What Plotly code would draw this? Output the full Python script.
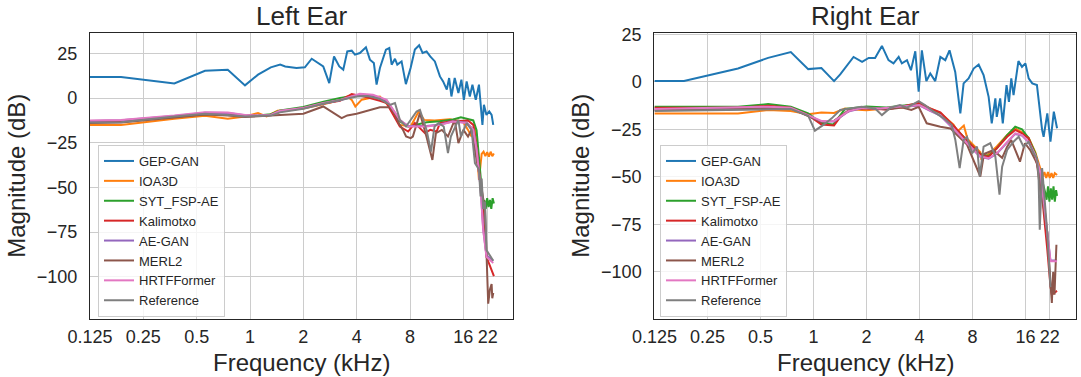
import plotly.graph_objects as go

names = ["GEP-GAN", "IOA3D", "SYT_FSP-AE", "Kalimotxo", "AE-GAN", "MERL2", "HRTFFormer", "Reference"]
colors = ["#1f77b4", "#ff7f0e", "#2ca02c", "#d62728", "#9467bd", "#8c564b", "#e377c2", "#7f7f7f"]
tick_vals = [0.125, 0.25, 0.5, 1, 2, 4, 8, 16, 22]
tick_text = ["0.125", "0.25", "0.5", "1", "2", "4", "8", "16", "22"]
y_ticks = [-100, -75, -50, -25, 0, 25]

# ---------------- Left ear ----------------
L_GEP_f = [0.125, 0.187, 0.374, 0.557, 0.749, 0.937, 1.11, 1.31, 1.48, 1.58, 1.83, 2.04, 2.23, 2.59, 2.80, 2.98, 3.19, 3.36, 3.54, 3.75, 3.91, 4.17, 4.51, 4.75, 5.0, 5.18, 5.41, 5.85, 6.11, 6.30, 6.58, 6.78, 7.17, 7.58, 8.06, 8.52, 9.01, 9.42, 9.92, 10.4, 11.05, 11.8, 12.3, 12.9, 13.3, 13.7, 14.3, 15.0, 15.6, 16.1, 16.7, 17.4, 18.0, 18.8, 19.6, 20.5, 20.9, 21.6, 22.4, 23.1, 23.6]
L_GEP_db = [11.8, 11.8, 8.2, 15.3, 15.9, 7.1, 13.1, 17.2, 18.7, 17.7, 16.8, 17.2, 22.0, 17.7, 8.4, 23.3, 17.7, 15.9, 26.1, 26.5, 24.3, 25.2, 28.4, 21.5, 19.6, 7.5, 16.8, 27.1, 28.0, 18.7, 22.0, 18.7, 20.5, 7.8, 16.8, 27.1, 29.5, 25.2, 26.1, 23.3, 20.5, 12.1, 9.3, 4.7, 11.2, 0.9, 11.2, 2.8, 10.3, -1.0, 9.3, 0.9, 7.5, -1.0, 7.5, -15.0, -3.8, -9.4, -7.5, -9.4, -15.0]

L_IOA_f = [0.125, 0.187, 0.374, 0.557, 0.749, 0.937, 1.11, 1.24, 1.43, 2.0, 2.59, 3.0, 3.54, 3.75, 3.93, 4.27, 4.75, 5.41, 6.11, 7.01, 8.06, 8.96, 9.6, 11.0, 13.4, 15.9, 17.0, 17.8, 18.6, 19.1, 19.6, 20.3, 20.8, 21.3, 21.8, 22.3, 22.8, 23.3, 23.8]
L_IOA_db = [-15.0, -15.0, -11.6, -9.9, -11.6, -10.3, -8.4, -10.3, -7.1, -5.8, -3.5, -2.0, 0.9, -1.0, -4.7, -0.9, 0.0, 0.9, -4.7, -15.0, -15.9, -7.5, -12.2, -12.6, -11.8, -13.1, -17.8, -21.5, -15.9, -32.7, -45.8, -31.2, -30.0, -32.5, -30.2, -32.8, -30.0, -32.5, -31.0]

L_SYT_f = [0.125, 0.187, 0.374, 0.557, 0.749, 0.937, 1.11, 1.31, 1.48, 2.0, 2.6, 3.22, 4.0, 4.94, 5.90, 6.43, 7.01, 7.81, 8.71, 9.92, 11.8, 14.0, 15.5, 16.7, 18.2, 19.0, 19.9, 20.4, 20.7, 21.0, 21.4, 21.8, 22.2, 22.6, 23.0, 23.4, 23.8]
L_SYT_db = [-13.5, -13.2, -10.5, -9.0, -9.0, -10.0, -9.8, -9.0, -7.0, -5.0, -2.0, 0.0, 1.5, 1.0, -1.5, -7.0, -13.0, -16.0, -15.0, -13.5, -13.0, -12.0, -10.8, -11.5, -12.5, -18.0, -40.0, -53.0, -72.0, -57.0, -62.0, -56.0, -61.0, -57.0, -62.0, -56.0, -59.0]

L_KAL_f = [0.125, 0.187, 0.374, 0.557, 0.749, 0.937, 1.11, 1.31, 1.48, 2.0, 2.59, 3.22, 3.75, 4.58, 5.41, 5.90, 6.43, 7.01, 7.81, 8.52, 9.7, 10.4, 11.3, 11.8, 13.4, 15.3, 17.0, 18.2, 19.1, 20.3, 21.2, 21.6, 23.8]
L_KAL_db = [-13.0, -12.8, -10.5, -8.5, -8.8, -9.8, -10.0, -9.5, -7.5, -5.6, -3.0, -1.5, 2.2, 0.5, -1.5, -2.8, -9.4, -15.9, -18.7, -14.0, -19.6, -17.8, -18.7, -14.0, -13.1, -12.6, -12.6, -15.0, -29.0, -55.0, -81.3, -88.8, -99.6]

L_AEG_f = [0.125, 0.187, 0.374, 0.557, 0.749, 0.937, 1.11, 1.31, 1.48, 2.0, 2.6, 3.22, 4.17, 4.94, 5.90, 6.43, 7.01, 7.81, 8.71, 9.92, 11.8, 14.0, 16.7, 18.2, 19.0, 20.0, 20.7, 21.6, 23.6]
L_AEG_db = [-12.8, -12.4, -10.0, -8.2, -8.3, -9.6, -9.9, -9.5, -7.3, -5.7, -3.0, -1.2, 2.0, 1.5, -1.2, -6.8, -12.5, -15.5, -15.5, -15.6, -14.8, -13.0, -13.8, -17.5, -28.5, -50.0, -73.0, -88.0, -91.0]

L_MER_f = [0.125, 0.187, 0.374, 0.557, 0.749, 0.937, 1.11, 1.31, 1.48, 2.0, 2.59, 3.29, 3.54, 4.0, 4.7, 5.41, 6.16, 6.58, 6.9, 7.3, 7.6, 8.06, 8.3, 9.1, 9.9, 10.7, 11.2, 12.1, 13.1, 14.3, 15.0, 16.0, 17.0, 17.8, 19.0, 19.8, 21.2, 21.6, 22.1, 22.6, 23.1, 23.3, 23.6]
L_MER_db = [-14.0, -13.6, -10.8, -9.2, -9.8, -10.6, -10.2, -9.6, -9.4, -8.8, -4.7, -11.2, -9.7, -8.8, -6.6, -5.1, -5.1, -9.0, -14.0, -17.8, -21.5, -22.4, -21.5, -8.4, -21.5, -34.6, -19.6, -17.8, -21.5, -12.2, -25.2, -17.8, -21.5, -17.8, -34.6, -44.0, -62.6, -88.8, -115.0, -107.0, -104.0, -112.0, -109.0]

L_HRT_f = [0.125, 0.187, 0.374, 0.557, 0.749, 0.937, 1.11, 1.31, 1.48, 2.0, 2.6, 3.22, 4.17, 4.94, 5.90, 6.43, 7.01, 7.81, 8.71, 9.92, 11.8, 14.0, 16.7, 18.2, 19.0, 20.0, 20.7, 21.6, 23.6]
L_HRT_db = [-12.6, -12.2, -9.8, -7.9, -8.1, -9.4, -9.8, -9.4, -7.1, -5.6, -2.8, -1.0, 2.4, 1.8, -1.0, -6.6, -12.2, -15.9, -15.9, -15.9, -15.0, -13.1, -14.0, -17.8, -29.0, -50.0, -73.8, -88.8, -92.2]

L_REF_f = [0.125, 0.187, 0.374, 0.557, 0.749, 0.937, 1.11, 1.31, 1.48, 2.0, 2.59, 3.22, 4.0, 4.6, 5.41, 6.16, 6.58, 7.01, 7.6, 8.71, 9.1, 9.92, 10.5, 11.0, 11.6, 12.4, 13.1, 13.6, 15.0, 15.5, 16.7, 17.8, 18.6, 19.6, 20.0, 20.3, 20.7, 21.2, 21.6, 23.6]
L_REF_db = [-13.7, -13.5, -10.3, -8.8, -9.4, -10.3, -10.0, -9.8, -8.0, -6.0, -3.2, -1.0, 0.9, 1.2, -0.5, -3.8, -2.8, -12.2, -15.9, -7.5, -6.6, -17.8, -29.9, -15.9, -14.0, -15.9, -30.8, -21.5, -12.2, -21.5, -14.0, -17.8, -36.4, -40.0, -55.0, -45.0, -62.0, -58.0, -85.0, -91.0]

# ---------------- Right ear ----------------
R_GEP_f = [0.125, 0.184, 0.373, 0.553, 0.744, 0.934, 1.11, 1.31, 1.42, 1.69, 1.89, 2.06, 2.24, 2.45, 2.67, 2.85, 3.05, 3.18, 3.40, 3.58, 3.79, 3.96, 4.13, 4.38, 4.61, 4.92, 5.26, 5.61, 5.93, 6.39, 6.83, 7.13, 7.61, 8.13, 8.68, 9.26, 9.89, 10.3, 10.8, 11.0, 11.5, 11.9, 12.5, 12.9, 13.3, 13.7, 14.6, 15.3, 16.0, 16.7, 17.5, 18.6, 19.9, 20.3, 21.3, 22.2, 23.2, 24.2]
R_GEP_db = [0.5, 0.5, 7.0, 12.6, 15.7, 6.7, 7.3, 0.4, 3.9, 13.1, 10.5, 12.6, 12.6, 18.9, 11.4, 9.7, 13.1, 9.7, 11.4, 6.1, 16.1, -5.2, 16.6, 0.4, 4.4, 0.4, 13.1, 11.4, 16.6, 5.2, -16.6, -0.8, 1.8, 7.0, 9.1, 3.5, -7.9, -21.8, -8.7, -18.4, -8.7, -21.8, -1.7, -10.5, 1.8, -7.0, 10.9, 7.9, 9.7, 1.8, -0.8, -1.7, -25.3, -28.9, -16.6, -31.5, -15.7, -24.4]

R_IOA_f = [0.125, 0.373, 0.553, 0.744, 0.934, 1.11, 1.31, 1.51, 1.7, 2.0, 2.6, 3.2, 4.0, 4.6, 5.26, 6.25, 6.6, 7.15, 7.5, 8.87, 9.0, 9.89, 11.0, 12.6, 14.0, 15.3, 16.7, 18.2, 19.5, 20.0, 20.5, 21.0, 21.5, 22.0, 22.5, 23.0, 23.5, 24.2]
R_IOA_db = [-16.6, -16.6, -14.8, -15.4, -17.1, -16.1, -16.4, -14.0, -14.5, -15.0, -14.0, -13.5, -12.0, -14.0, -16.5, -22.5, -26.0, -23.0, -30.0, -37.0, -41.0, -38.0, -34.0, -28.0, -24.5, -26.5, -29.5, -37.0, -46.0, -50.0, -47.5, -50.5, -47.5, -50.5, -48.0, -50.5, -48.0, -49.0]

R_SYT_f = [0.125, 0.373, 0.553, 0.744, 0.934, 1.11, 1.30, 1.51, 1.7, 2.0, 2.6, 3.2, 4.0, 4.6, 5.26, 6.25, 7.45, 8.87, 9.89, 11.0, 12.6, 13.5, 14.0, 15.3, 16.7, 18.2, 19.5, 20.3, 20.7, 21.1, 21.5, 21.9, 22.3, 22.7, 23.1, 23.5, 23.9, 24.2]
R_SYT_db = [-13.1, -13.1, -11.7, -13.1, -16.6, -21.8, -22.4, -14.3, -13.8, -13.0, -13.5, -12.5, -11.5, -14.5, -17.0, -23.5, -31.0, -38.0, -39.0, -35.0, -28.0, -25.3, -23.6, -25.0, -29.7, -37.6, -48.1, -54.2, -58.0, -62.0, -55.0, -63.0, -56.0, -62.0, -55.0, -63.0, -57.0, -60.0]

R_KAL_f = [0.125, 0.373, 0.553, 0.744, 0.934, 1.11, 1.31, 1.42, 1.51, 1.7, 2.0, 2.6, 3.2, 4.0, 4.6, 5.26, 6.25, 7.45, 8.87, 9.89, 11.0, 12.6, 14.0, 15.3, 16.7, 18.2, 19.5, 20.3, 21.3, 22.2, 22.6, 24.2]
R_KAL_db = [-13.6, -13.6, -12.6, -13.6, -17.5, -22.4, -22.9, -18.4, -16.6, -14.0, -14.0, -14.5, -13.0, -11.0, -14.0, -16.0, -23.0, -31.0, -38.0, -39.5, -35.0, -28.9, -25.3, -27.1, -29.7, -39.3, -51.6, -67.3, -88.3, -107.6, -111.9, -110.0]

R_AEG_f = [0.125, 0.373, 0.553, 0.744, 0.934, 1.11, 1.31, 1.58, 1.9, 2.4, 3.0, 4.0, 4.6, 5.26, 6.25, 7.45, 8.87, 9.89, 11.0, 12.6, 14.0, 15.3, 16.7, 18.2, 19.5, 20.3, 21.3, 22.2, 24.2]
R_AEG_db = [-14.6, -13.9, -13.4, -13.9, -17.8, -20.9, -20.8, -15.6, -13.8, -14.2, -13.3, -12.4, -15.2, -17.8, -24.8, -32.5, -39.5, -40.4, -37.8, -31.8, -27.4, -28.3, -31.8, -38.8, -48.5, -62.5, -80.0, -94.0, -94.0]

R_MER_f = [0.125, 0.373, 0.553, 0.744, 0.934, 1.11, 1.31, 1.58, 2.0, 2.6, 3.2, 3.6, 3.96, 4.4, 5.26, 6.0, 6.25, 7.45, 8.87, 9.3, 10.5, 11.8, 12.6, 13.3, 14.9, 15.9, 17.0, 18.6, 19.5, 20.3, 21.3, 22.2, 22.6, 23.0, 23.4, 24.0]
R_MER_db = [-15.0, -14.3, -13.8, -14.0, -18.0, -21.0, -20.5, -15.0, -13.5, -14.5, -13.5, -14.8, -13.1, -21.8, -23.6, -24.5, -26.2, -33.0, -49.8, -38.0, -36.0, -40.0, -34.1, -30.6, -42.0, -32.3, -35.8, -42.8, -58.6, -65.6, -79.5, -107.6, -116.3, -100.0, -112.0, -85.7]

R_HRT_f = [0.125, 0.373, 0.553, 0.744, 0.934, 1.11, 1.31, 1.58, 1.9, 2.4, 3.0, 4.0, 4.6, 5.26, 6.25, 7.45, 8.87, 9.89, 11.0, 12.6, 14.0, 15.3, 16.7, 18.2, 19.5, 20.3, 21.3, 22.2, 24.2]
R_HRT_db = [-14.3, -13.6, -13.1, -13.6, -17.5, -20.6, -20.6, -15.4, -13.6, -14.0, -13.1, -12.2, -15.0, -17.5, -24.5, -32.3, -39.3, -40.2, -37.6, -31.5, -27.1, -28.0, -31.5, -38.5, -48.1, -62.1, -79.5, -94.4, -94.4]

R_REF_f = [0.125, 0.373, 0.553, 0.744, 0.934, 1.02, 1.15, 1.27, 1.42, 1.88, 2.24, 2.45, 2.74, 3.1, 3.4, 3.96, 4.3, 4.77, 5.5, 6.1, 6.4, 6.77, 7.13, 7.45, 7.96, 8.5, 8.8, 9.26, 10.1, 10.8, 11.4, 11.8, 12.6, 13.7, 14.65, 15.6, 16.7, 17.8, 18.6, 19.0, 19.3, 19.9, 20.5, 21.3, 22.2]
R_REF_db = [-15.4, -14.8, -14.3, -14.3, -17.8, -25.7, -22.4, -19.2, -14.8, -13.1, -14.0, -17.5, -13.6, -12.2, -13.6, -10.1, -12.2, -15.4, -19.2, -22.7, -30.6, -45.4, -30.6, -28.9, -37.6, -34.1, -49.8, -34.1, -32.3, -39.3, -59.4, -44.6, -35.8, -31.5, -28.9, -34.1, -31.5, -37.6, -40.2, -49.8, -77.8, -45.4, -60.0, -79.5, -108.0]

left_f = [L_GEP_f, L_IOA_f, L_SYT_f, L_KAL_f, L_AEG_f, L_MER_f, L_HRT_f, L_REF_f]
left_db = [L_GEP_db, L_IOA_db, L_SYT_db, L_KAL_db, L_AEG_db, L_MER_db, L_HRT_db, L_REF_db]
right_f = [R_GEP_f, R_IOA_f, R_SYT_f, R_KAL_f, R_AEG_f, R_MER_f, R_HRT_f, R_REF_f]
right_db = [R_GEP_db, R_IOA_db, R_SYT_db, R_KAL_db, R_AEG_db, R_MER_db, R_HRT_db, R_REF_db]

W, H = 1081, 377
FONT = "Liberation Sans, Arial, Helvetica, sans-serif"
TXT = "#262626"

fig = go.Figure()
for i, n in enumerate(names):
    fig.add_trace(go.Scatter(x=left_f[i], y=left_db[i], mode="lines", name=n,
                             line=dict(color=colors[i], width=2),
                             xaxis="x", yaxis="y", legend="legend"))
for i, n in enumerate(names):
    fig.add_trace(go.Scatter(x=right_f[i], y=right_db[i], mode="lines", name=n,
                             line=dict(color=colors[i], width=2),
                             xaxis="x2", yaxis="y2", legend="legend2"))

def px_x(p):
    return p / W

def px_y(p):
    return 1 - p / H

xcommon = dict(type="log", tickvals=tick_vals, ticktext=tick_text, automargin=False,
               showgrid=True, gridcolor="#cccccc", gridwidth=1,
               showline=True, linecolor="#262626", linewidth=1.3, mirror=True,
               ticks="", ticklabelstandoff=2,
               tickfont=dict(size=18, color=TXT, family=FONT),
               zeroline=False)
ycommon = dict(tickvals=y_ticks, showgrid=True, gridcolor="#cccccc", gridwidth=1, automargin=False,
               showline=True, linecolor="#262626", linewidth=1.3, mirror=True,
               ticks="", ticklabelstandoff=8,
               tickfont=dict(size=18, color=TXT, family=FONT),
               zeroline=False)

legcommon = dict(font=dict(size=13, color=TXT, family=FONT), bgcolor="rgba(255,255,255,0.8)",
                 bordercolor="#cccccc", borderwidth=1, xanchor="left", yanchor="top",
                 tracegroupgap=0, itemwidth=30)

L0, L1 = 90, 513
R0, R1 = 654.4, 1076
T, B = 33, 318.5

def ann(text, x, y, size, angle=0):
    return dict(text=text, x=px_x(x), y=px_y(y), xref="paper", yref="paper", showarrow=False,
                textangle=angle, font=dict(size=size, color=TXT, family=FONT),
                xanchor="center", yanchor="middle")

fig.update_layout(
    template="none",
    width=W, height=H,
    margin=dict(l=0, r=0, t=0, b=0, autoexpand=False),
    paper_bgcolor="white", plot_bgcolor="white",
    font=dict(family=FONT, color=TXT),
    xaxis=dict(domain=[px_x(L0), px_x(L1)], range=[-0.9031, 1.4843], anchor="y", **xcommon),
    yaxis=dict(domain=[px_y(B), px_y(T)], range=[-123.3, 36.4], anchor="x", **ycommon),
    xaxis2=dict(domain=[px_x(R0), px_x(R1)], range=[-0.9031, 1.4914], anchor="y2", **xcommon),
    yaxis2=dict(domain=[px_y(B), px_y(T)], range=[-124.5, 25.7], anchor="x2", **ycommon),
    legend=dict(x=px_x(98), y=px_y(145), **legcommon),
    legend2=dict(x=px_x(660), y=px_y(145), **legcommon),
    annotations=[
        ann("Left Ear", (L0 + L1) / 2, 16, 26),
        ann("Right Ear", (R0 + R1) / 2, 16, 26),
        ann("Frequency (kHz)", (L0 + L1) / 2, 362, 24),
        ann("Frequency (kHz)", (R0 + R1) / 2, 362, 24),
        ann("Magnitude (dB)", 17, (T + B) / 2, 24, -90),
        ann("Magnitude (dB)", 581, (T + B) / 2, 24, -90),
    ],
)

fig.write_html("out.html", config={"displayModeBar": False},
               post_script="document.body.style.margin='0';document.body.style.overflow='hidden';")
